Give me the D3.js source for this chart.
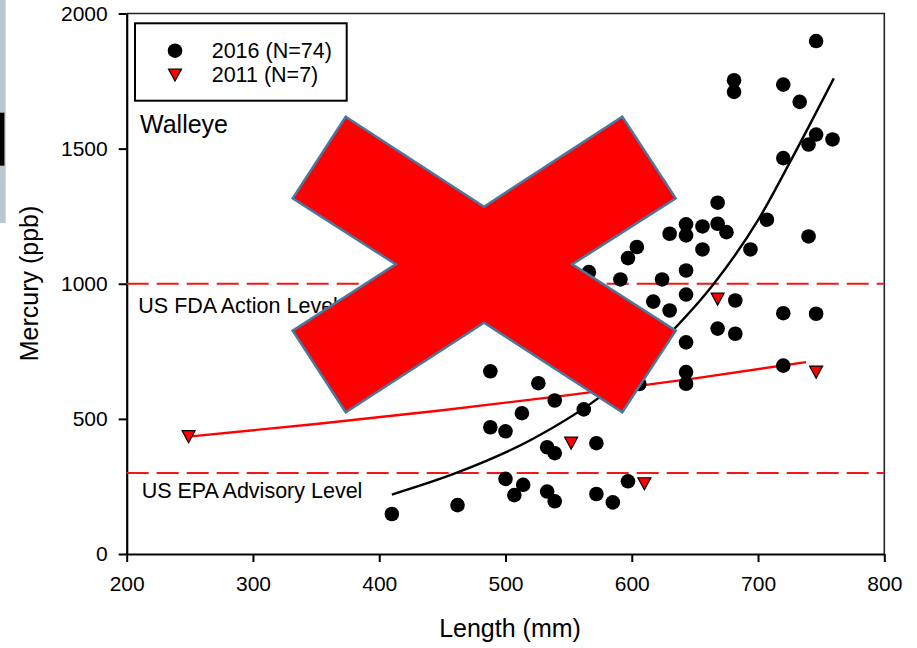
<!DOCTYPE html>
<html>
<head>
<meta charset="utf-8">
<script src="https://cdn.jsdelivr.net/npm/d3@7"></script>
<style>
  html, body { margin: 0; padding: 0; background: #fff; }
  svg { display: block; font-family: Arial, "Liberation Sans", sans-serif; }
</style>
</head>
<body>
<svg id="chart" width="917" height="648"></svg>
<script>
// Walleye mercury vs. length, 2016 and 2011 samples
const len2016 = [746, 681, 681, 720, 733, 746, 759, 740, 720, 668, 707, 740, 643, 643, 656, 668, 675, 630, 694, 656,
                 604, 597, 566, 591, 624, 643, 643, 617, 630, 682, 720, 746, 668, 682, 643, 643, 643, 720, 622,
                 488, 526, 539, 513, 562, 488, 500, 533, 539, 572, 500, 514, 507, 533, 539, 572, 585, 597, 462, 410, 606,
                 535, 543, 575, 567, 512, 496, 472, 483, 519, 543, 567, 456, 432, 583];
const hg2016  = [1898, 1753, 1710, 1737, 1673, 1552, 1534, 1515, 1465, 1300, 1237, 1175, 1220, 1179, 1212, 1222, 1191, 1185, 1127, 1127,
                 1136, 1095, 1043, 1016, 1016, 1049, 960, 934, 901, 938, 891, 889, 834, 815, 783, 673, 630, 697, 1366,
                 676, 632, 568, 521, 535, 469, 454, 395, 373, 410, 278, 256, 218, 231, 195, 222, 191, 269, 181, 148, 629,
                 937, 864, 790, 716, 975, 938, 1049, 1123, 1160, 1234, 1345, 975, 901, 1457];

const len2011 = [249, 552, 610, 668, 746, 377, 432];
const hg2011  = [434, 410, 260, 943, 673, 827, 1013];

// Fitted trend curves (length, mercury)
const fit2016 = [[410, 220], [461, 300], [520, 422], [580, 600], [630, 815], [665, 1000], [700, 1235], [727, 1465], [760, 1760]];
const fit2011 = [[248, 434], [350, 481], [450, 532], [550, 588], [650, 650], [738, 710]];

// Advisory thresholds
const limitValues = [1000, 300];
const limitLabels = ["US FDA Action Level", "US EPA Advisory Level"];

const xTicks = [200, 300, 400, 500, 600, 700, 800];
const yTicks = [0, 500, 1000, 1500, 2000];
const legendLabels = ["2016 (N=74)", "2011 (N=7)"];

const svg = d3.select("#chart");
const W = 917, H = 648;
svg.append("rect").attr("width", W).attr("height", H).attr("fill", "#fff");

// thin strips along the left edge
svg.append("rect").attr("x", 0).attr("y", 0).attr("width", 5.7).attr("height", 223).attr("fill", "#bcc6cf");
svg.append("rect").attr("x", 0).attr("y", 112.7).attr("width", 4.4).attr("height", 53).attr("fill", "#050505");

const x = d3.scaleLinear().domain([200, 800]).range([126.7, 884.3]);
const y = d3.scaleLinear().domain([0, 2000]).range([554, 13.5]);

// frame on top and right
svg.append("path")
  .attr("d", `M${x(200)},${y(2000)}H${x(800)}V${y(0)}`)
  .attr("fill", "none").attr("stroke", "#222").attr("stroke-width", 1.6);

// axes
const fmt = d3.format("d");
const xAxis = svg.append("g").attr("transform", `translate(0,${y(0)})`)
  .call(d3.axisBottom(x).tickValues(xTicks).tickFormat(fmt).tickSize(8).tickSizeOuter(0).tickPadding(14));
const yAxis = svg.append("g").attr("transform", `translate(${x(200)},0)`)
  .call(d3.axisLeft(y).tickValues(yTicks).tickFormat(fmt).tickSize(8).tickSizeOuter(0).tickPadding(11));
[xAxis, yAxis].forEach(g => {
  g.select(".domain").attr("stroke", "#000").attr("stroke-width", 2.2);
  g.selectAll(".tick line").attr("stroke", "#000").attr("stroke-width", 2);
  g.selectAll(".tick text").attr("fill", "#000").style("font-size", "21px")
    .style("font-family", "Arial, 'Liberation Sans', sans-serif");
});

// axis titles
svg.append("text").attr("x", 510).attr("y", 637).attr("text-anchor", "middle")
  .style("font-size", "25px").attr("fill", "#000").text("Length (mm)");
svg.append("text").attr("transform", "translate(37.5,283.5) rotate(-90)").attr("text-anchor", "middle")
  .style("font-size", "25px").attr("fill", "#000").text("Mercury (ppb)");

// threshold lines
svg.selectAll(".limit").data(limitValues).join("line")
  .attr("x1", x(200)).attr("x2", x(800))
  .attr("y1", d => y(d)).attr("y2", d => y(d))
  .attr("stroke", "#f01818").attr("stroke-width", 2).attr("stroke-dasharray", "22,8");
const labelPos = [[138.3, 313.3], [141.7, 498.3]];
svg.selectAll(".limitLabel").data(limitLabels).join("text")
  .attr("x", (d, i) => labelPos[i][0]).attr("y", (d, i) => labelPos[i][1])
  .style("font-size", "21.5px").attr("fill", "#000").text(d => d);

// trend curves
const line = d3.line().x(d => x(d[0])).y(d => y(d[1])).curve(d3.curveMonotoneX);
svg.append("path").attr("d", line(fit2011)).attr("fill", "none").attr("stroke", "#ff0000").attr("stroke-width", 2.4);
svg.append("path").attr("d", line(fit2016)).attr("fill", "none").attr("stroke", "#000").attr("stroke-width", 2.4);

// 2016 points
svg.append("g").selectAll("circle").data(d3.range(len2016.length)).join("circle")
  .attr("cx", i => x(len2016[i])).attr("cy", i => y(hg2016[i])).attr("r", 7.3).attr("fill", "#000");

// 2011 points
const tri = (cx, cy) => `M${cx - 6.5},${cy - 6}L${cx + 6.5},${cy - 6}L${cx},${cy + 6}Z`;
svg.append("g").selectAll("path").data(d3.range(len2011.length)).join("path")
  .attr("d", i => tri(x(len2011[i]), y(hg2011[i])))
  .attr("fill", "#ff0000").attr("stroke", "#000").attr("stroke-width", 1.2).attr("stroke-linejoin", "miter");

// legend
const lg = svg.append("g");
lg.append("rect").attr("x", 135).attr("y", 23.3).attr("width", 211.7).attr("height", 77.4)
  .attr("fill", "#fff").attr("stroke", "#000").attr("stroke-width", 2);
lg.append("circle").attr("cx", 175).attr("cy", 50.7).attr("r", 7.3).attr("fill", "#000");
lg.append("path").attr("d", tri(175, 75)).attr("fill", "#ff0000").attr("stroke", "#000").attr("stroke-width", 1.2);
lg.selectAll("text").data(legendLabels).join("text")
  .attr("x", 211.7).attr("y", (d, i) => [58.3, 81.7][i])
  .style("font-size", "21.5px").attr("fill", "#000").text(d => d);

svg.append("text").attr("x", 140).attr("y", 133.3).style("font-size", "25px").attr("fill", "#000").text("Walleye");

// red cross overlay
const crossPts = [[345.7, 116.7], [484, 206.7], [622.3, 116.7], [675.7, 198.3], [572.3, 264.3], [675.7, 330.7],
                  [622.3, 412.3], [484, 322.7], [345.7, 412.3], [292.7, 330.7], [395.7, 264.3], [292.7, 198.3]];
svg.append("path")
  .attr("d", "M" + crossPts.map(p => p.join(",")).join("L") + "Z")
  .attr("fill", "#ff0000").attr("stroke", "#4a77a0").attr("stroke-width", 2.5).attr("stroke-linejoin", "miter");
</script>
</body>
</html>
